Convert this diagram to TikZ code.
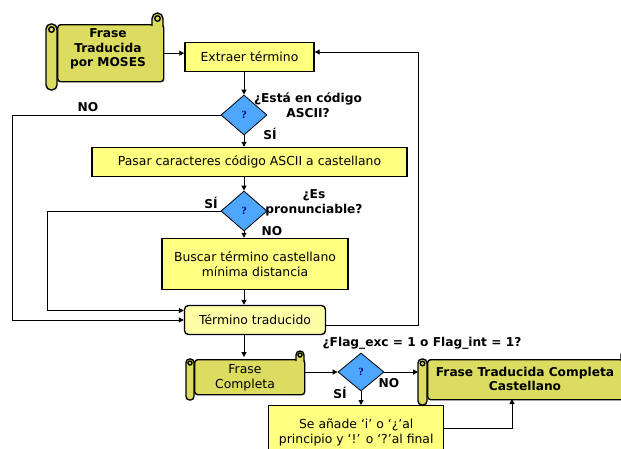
\documentclass[tikz,border=0pt]{standalone}
\usepackage{fontspec}
\setmainfont{DejaVu Sans}
\newfontfamily\qfont{Liberation Serif}
\usetikzlibrary{shapes.geometric,arrows.meta,calc}
\definecolor{boxY}{HTML}{FFFF80}
\definecolor{ttY}{HTML}{FFFFA8}
\definecolor{scrY}{HTML}{DCDC60}
\definecolor{dBlue}{HTML}{4DA6FF}
\definecolor{qBlue}{HTML}{000066}
\newcommand\myscroll[7]{%
  \node[scrollbody, anchor=north west, minimum width={#5-#2-#3}, minimum height={#6-#4}] (#1) at ({#2+#3},#4) {};
  \filldraw[scrollline] ({#5-#3},{#4+2}) -- ({#5-#3},{#4-#3/2}) arc[start angle=180,end angle=360,radius={#3/2}] -- (#5,{#4+2});
  \draw[scrollline] ({#5-#3/2},{#4-#3/2}) circle[radius={#3/4}];
  \filldraw[scrollline,rounded corners={#3/2-0.5}] (#2,#4) rectangle ({#2+#3},#7);
  \draw[scrollline] ({#2+#3/2},{#4+#3/2}) circle[radius={#3/4}];
}
\begin{document}
\begin{tikzpicture}[x=1pt,y=-1pt,
  txt/.style={font=\fontsize{12.4}{15}\selectfont,align=center,inner sep=0pt},
  btxt/.style={font=\bfseries\fontsize{12.2}{14.5}\selectfont,align=center,inner sep=0pt},
  box/.style={draw=black,line width=1.4pt,fill=boxY,inner sep=0pt,txt},
  scrollbody/.style={draw=black,line width=1.4pt,fill=scrY,inner sep=0pt,rounded corners=3pt},
  scrollline/.style={draw=black,line width=1.4pt,fill=scrY},
  dia/.style={diamond,draw=black,line width=0.8pt,fill=dBlue,inner sep=0pt,minimum width=46,minimum height=40,
    font=\qfont\bfseries\fontsize{11}{11}\selectfont,text=qBlue},
  arr/.style={draw=black,line width=1pt,-{Triangle[length=5pt,width=5pt]}}]
\useasboundingbox (0,0) rectangle (621,448);
\clip (0,0) rectangle (621,448);
\fill[white] (0,0) rectangle (621,448);

% nodes
\myscroll{moses}{46}{11}{24}{163}{81}{90}
\node[btxt] (mosesT) at (108,49) {Frase\\Traducida\\por MOSES};

\node[box,minimum width=129,minimum height=29] (extraer) at (249.5,57) {Extraer término};
\node[dia] (d1) at (244,115) {?};
\node[btxt] (q1) at (308,105) {¿Está en código\\ASCII?};
\node[btxt] (no1) at (88,107) {NO};
\node[btxt] (si1) at (270,134) {SÍ};

\node[box,minimum width=315,minimum height=29] (pasar) at (249.5,162) {Pasar caracteres código ASCII a castellano};
\node[dia] (d2) at (244,211) {?};
\node[btxt] (q2) at (314,203) {¿Es\\pronunciable?};
\node[btxt] (si2) at (211,203) {SÍ};
\node[btxt] (no2) at (272,231) {NO};

\node[box,minimum width=186,minimum height=51] (buscar) at (255,264) {Buscar término castellano\\mínima distancia};
\node[box,fill=ttY,rounded corners=4pt,minimum width=141,minimum height=29] (tt) at (255,320) {Término traducido};

\myscroll{fc}{186}{8}{359}{304}{394}{400}
\node[txt] (fcT) at (245,378) {Frase\\Completa};

\node[dia,minimum height=38] (d3) at (361,372) {?};
\node[btxt] (q3) at (422,343) {¿Flag\_exc = 1 o Flag\_int = 1?};
\node[btxt] (no3) at (389,383) {NO};
\node[btxt] (si3) at (340,393) {SÍ};

\myscroll{fin}{418}{9}{359}{630}{399}{405}
\node[btxt] (finT) at (525,379) {Frase Traducida Completa\\Castellano};

\node[box,minimum width=175,minimum height=50,anchor=north west,text depth=0pt] (sa) at (268,405) {Se añade ‘i’ o ‘¿’al\\principio y ‘!’ o ‘?’al final};

% helper coordinates
\coordinate (xL) at (12,0);
\coordinate (xI) at (47,0);
\coordinate (xR) at (418,0);
\coordinate (finB) at (512,399);
\coordinate (finL) at (418,372);
\coordinate (ttA) at ([yshift=9.5pt]tt.west);
\coordinate (ttB) at ([yshift=-5pt]tt.east);
\coordinate (exA) at ([yshift=5pt]extraer.east);

% connectors
\draw[arr] (moses.east) -- (moses.east -| extraer.west);
\draw[arr] (extraer.south -| d1.north) -- (d1.north);
\draw[arr] (d1.south) -- (d1.south |- pasar.north);
\draw[arr] (pasar.south -| d2.north) -- (d2.north);
\draw[arr] (d2.south) -- (d2.south |- buscar.north);
\draw[arr] (d2.south |- buscar.south) -- (d2.south |- tt.north);
\draw[arr] (d1.west) -- (d1.west -| xL) -- (xL |- tt.west) -- (tt.west);
\draw[arr] (d2.west) -- (d2.west -| xI) -- (xI |- ttA) -- (ttA);
\draw[arr] (ttB) -- (ttB -| xR) -- (xR |- exA) -- (exA);
\draw[arr] (d1.south |- tt.south) -- ([yshift=2pt]d1.south |- fc.north);
\draw[arr] (d3.west -| fc.east) -- (d3.west);
\draw[arr] (d3.east) -- (finL);
\draw[arr] (d3.south) -- (d3.south |- sa.north);
\draw[arr] ([yshift=2pt]sa.east) -| (finB);
\end{tikzpicture}
\end{document}
